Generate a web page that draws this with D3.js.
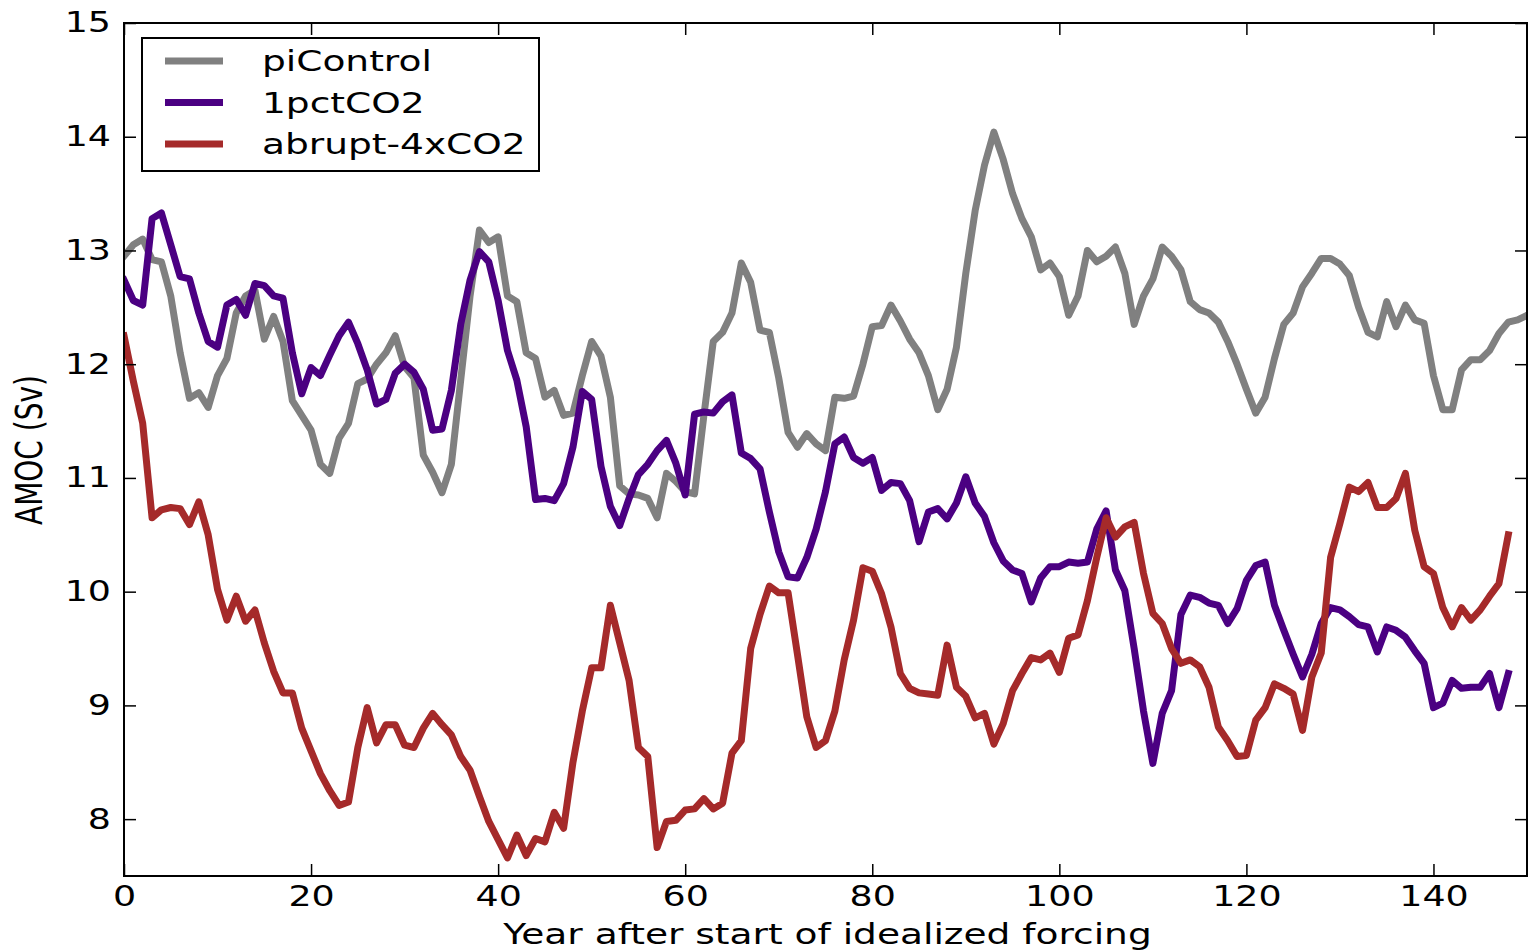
<!DOCTYPE html>
<html>
<head>
<meta charset="utf-8">
<script src="https://cdn.jsdelivr.net/npm/d3@7"></script>
<style>
  body { margin: 0; background: #fff; }
  svg { display: block; }
  text { font-family: "DejaVu Sans", sans-serif; fill: #000; }
</style>
</head>
<body>
<svg id="chart" width="1528" height="952"></svg>
<script>
// AMOC strength (Sv) per year after start of forcing
var piControl = [12.95, 13.05, 13.1, 12.92, 12.9, 12.6, 12.1, 11.7, 11.75, 11.62,
  11.9, 12.05, 12.45, 12.6, 12.65, 12.22, 12.42, 12.2, 11.68, 11.55,
  11.42, 11.12, 11.04, 11.35, 11.48, 11.83, 11.87, 12.0, 12.1, 12.25,
  11.98, 11.88, 11.2, 11.05, 10.87, 11.12, 11.86, 12.6, 13.18, 13.07,
  13.12, 12.6, 12.55, 12.1, 12.05, 11.71, 11.77, 11.55, 11.57, 11.9,
  12.2, 12.07, 11.71, 10.93, 10.86, 10.85, 10.82, 10.65, 11.04, 10.97,
  10.88, 10.86, 11.55, 12.2, 12.28, 12.45, 12.89, 12.72, 12.3, 12.28,
  11.88, 11.4, 11.27, 11.39, 11.3, 11.24, 11.71, 11.7, 11.72, 12.0,
  12.33, 12.34, 12.52, 12.38, 12.22, 12.1, 11.9, 11.6, 11.78, 12.15,
  12.8, 13.35, 13.75, 14.04, 13.8, 13.5, 13.28, 13.12, 12.83, 12.89,
  12.77, 12.43, 12.6, 13.0, 12.9, 12.95, 13.03, 12.8, 12.35, 12.6,
  12.75, 13.03, 12.95, 12.83, 12.55, 12.48, 12.45, 12.37, 12.2, 12.0,
  11.78, 11.57, 11.71, 12.05, 12.35, 12.45, 12.68, 12.8, 12.93, 12.93,
  12.88, 12.78, 12.5, 12.28, 12.24, 12.55, 12.33, 12.52, 12.39, 12.36,
  11.9, 11.6, 11.6, 11.95, 12.04, 12.04, 12.12, 12.27, 12.37, 12.39,
  12.43];

var pct1CO2 = [12.74, 12.56, 12.52, 13.28, 13.33, 13.05, 12.77, 12.75, 12.45, 12.2,
  12.15, 12.52, 12.57, 12.43, 12.71, 12.69, 12.6, 12.58, 12.1, 11.74,
  11.97, 11.9, 12.08, 12.25, 12.37, 12.18, 11.95, 11.65, 11.69, 11.92,
  12.0, 11.93, 11.78, 11.42, 11.43, 11.77, 12.35, 12.74, 12.99, 12.9,
  12.56, 12.12, 11.86, 11.45, 10.81, 10.82, 10.8, 10.95, 11.27, 11.76,
  11.69, 11.1, 10.75, 10.58, 10.82, 11.03, 11.12, 11.24, 11.33, 11.13,
  10.85, 11.56, 11.58, 11.57, 11.67, 11.73, 11.22, 11.17, 11.08, 10.7,
  10.35, 10.13, 10.12, 10.3, 10.55, 10.88, 11.3, 11.36, 11.18, 11.13,
  11.18, 10.89, 10.96, 10.95, 10.8, 10.44, 10.7, 10.73, 10.64, 10.78,
  11.01, 10.78, 10.66, 10.43, 10.27, 10.19, 10.16, 9.91, 10.12, 10.22,
  10.22, 10.26, 10.25, 10.26, 10.55, 10.71, 10.19, 10.01, 9.5, 8.95,
  8.49, 8.93, 9.13, 9.8, 9.97, 9.95, 9.9, 9.88, 9.72, 9.85,
  10.1, 10.23, 10.26, 9.88, 9.66, 9.45, 9.25, 9.45, 9.72, 9.86,
  9.84, 9.78, 9.71, 9.69, 9.47, 9.69, 9.66, 9.6, 9.48, 9.37,
  8.98, 9.02, 9.22, 9.15, 9.16, 9.16, 9.28, 8.98, 9.28];

var abrupt4xCO2 = [12.25, 11.85, 11.48, 10.65, 10.72, 10.74, 10.73, 10.59, 10.79, 10.5,
  10.02, 9.75, 9.96, 9.74, 9.84, 9.55, 9.3, 9.11, 9.11, 8.8,
  8.6, 8.4, 8.25, 8.12, 8.15, 8.63, 8.98, 8.67, 8.83, 8.83,
  8.65, 8.63, 8.8, 8.93, 8.83, 8.74, 8.55, 8.43, 8.2, 7.98,
  7.82, 7.66, 7.86, 7.68, 7.83, 7.8, 8.06, 7.92, 8.5, 8.95,
  9.33, 9.33, 9.88, 9.55, 9.22, 8.63, 8.55, 7.75, 7.98, 7.99,
  8.08, 8.09, 8.18, 8.09, 8.14, 8.58, 8.69, 9.5, 9.8, 10.05,
  9.99, 9.99, 9.45, 8.9, 8.63, 8.69, 8.95, 9.4, 9.75, 10.21,
  10.18, 9.98, 9.69, 9.28, 9.15, 9.11, 9.1, 9.09, 9.53, 9.16,
  9.08, 8.89, 8.93, 8.66, 8.84, 9.13, 9.28, 9.42, 9.4, 9.46,
  9.29, 9.59, 9.62, 9.92, 10.3, 10.65, 10.48, 10.57, 10.61, 10.16,
  9.81, 9.72, 9.5, 9.37, 9.4, 9.34, 9.16, 8.81, 8.69, 8.55,
  8.56, 8.87, 8.98, 9.19, 9.15, 9.1, 8.78, 9.25, 9.46, 10.3,
  10.6, 10.92, 10.88, 10.96, 10.74, 10.74, 10.82, 11.04, 10.54, 10.22,
  10.16, 9.86, 9.69, 9.86, 9.75, 9.84, 9.96, 10.07, 10.5];

var seriesNames = ["piControl", "1pctCO2", "abrupt-4xCO2"];
var seriesColors = ["#808080", "#4b0082", "#a52a2a"];
var xTicks = [0, 20, 40, 60, 80, 100, 120, 140];
var yTicks = [8, 9, 10, 11, 12, 13, 14, 15];

var svg = d3.select("#chart");
var plotLeft = 124, plotRight = 1527, plotTop = 23, plotBottom = 876;
var stretch = 1.3;   // the original picture is wider than tall
var titleStretch = 1.34;

var x = d3.scaleLinear().domain([0, 150]).range([plotLeft, plotRight]);
var y = d3.scaleLinear().domain([7.5, 15]).range([plotBottom, plotTop]);

svg.append("defs").append("clipPath").attr("id", "plotclip")
  .append("rect").attr("x", plotLeft).attr("y", plotTop)
  .attr("width", plotRight - plotLeft).attr("height", plotBottom - plotTop);

// lines
var line = d3.line()
  .x(function(d, i) { return x(i); })
  .y(function(d) { return y(d); });

var allSeries = [piControl, pct1CO2, abrupt4xCO2];
var plot = svg.append("g").attr("clip-path", "url(#plotclip)");
allSeries.forEach(function(s, k) {
  plot.append("path")
    .datum(s)
    .attr("d", line)
    .attr("fill", "none")
    .attr("stroke", seriesColors[k])
    .attr("stroke-width", 7)
    .attr("stroke-linejoin", "round")
    .attr("stroke-linecap", "square");
});

// axes, ticks pointing inward on all four sides
function styleAxis(g) {
  g.select(".domain").remove();
  g.selectAll(".tick line").attr("stroke", "#000").attr("stroke-width", 1.5);
  g.selectAll("text").attr("font-size", 28).attr("fill", "#000")
    .attr("font-family", "DejaVu Sans, sans-serif");
}

svg.append("g").attr("transform", "translate(0," + plotBottom + ")")
  .call(d3.axisBottom(x).tickValues(xTicks).tickSize(-12).tickPadding(10))
  .call(styleAxis)
  .selectAll("text").attr("transform", "scale(" + stretch + ",1)");

svg.append("g").attr("transform", "translate(0," + plotTop + ")")
  .call(d3.axisTop(x).tickValues(xTicks).tickSize(-12).tickFormat(""))
  .call(styleAxis);

svg.append("g").attr("transform", "translate(" + plotLeft + ",0)")
  .call(d3.axisLeft(y).tickValues(yTicks).tickSize(-12).tickPadding(10))
  .call(styleAxis)
  .selectAll("text").attr("transform", "scale(" + stretch + ",1)");

svg.append("g").attr("transform", "translate(" + plotRight + ",0)")
  .call(d3.axisRight(y).tickValues(yTicks).tickSize(-12).tickFormat(""))
  .call(styleAxis);

// frame
svg.append("rect")
  .attr("x", plotLeft).attr("y", plotTop)
  .attr("width", plotRight - plotLeft).attr("height", plotBottom - plotTop)
  .attr("fill", "none").attr("stroke", "#000").attr("stroke-width", 2);

// axis titles
svg.append("text")
  .attr("transform", "translate(" + ((plotLeft + plotRight) / 2 + 2) + ",944) scale(" + titleStretch + ",1)")
  .attr("text-anchor", "middle")
  .attr("font-size", 28)
  .text("Year after start of idealized forcing");

svg.append("text")
  .attr("transform", "translate(42,450) scale(" + stretch + ",1) rotate(-90)")
  .attr("text-anchor", "middle")
  .attr("font-size", 28)
  .text("AMOC (Sv)");

// legend
var legend = svg.append("g");
legend.append("rect")
  .attr("x", 142).attr("y", 38).attr("width", 397).attr("height", 133)
  .attr("fill", "#fff").attr("stroke", "#000").attr("stroke-width", 2);

seriesNames.forEach(function(name, k) {
  var ly = 61 + k * 41.5;
  legend.append("line")
    .attr("x1", 165).attr("x2", 223).attr("y1", ly).attr("y2", ly)
    .attr("stroke", seriesColors[k]).attr("stroke-width", 7);
  legend.append("text")
    .attr("transform", "translate(262," + (ly + 10) + ") scale(" + titleStretch + ",1)")
    .attr("font-size", 28)
    .text(name);
});
</script>
</body>
</html>
